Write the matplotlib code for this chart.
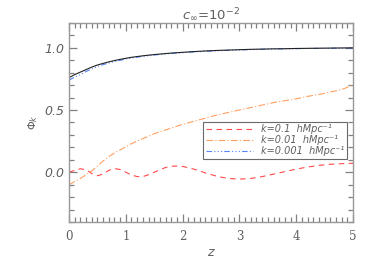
#!/usr/bin/env python3
import matplotlib
matplotlib.use('Agg')
import matplotlib.pyplot as plt
from matplotlib.ticker import MultipleLocator

# values
z = [0.0, 0.1, 0.2, 0.3, 0.4, 0.5, 0.6, 0.7, 0.8, 0.9, 1.0, 1.1, 1.2, 1.3,
     1.4, 1.5, 1.6, 1.7, 1.8, 1.9, 2.0, 2.2, 2.4, 2.6, 2.8, 3.0, 3.2, 3.4,
     3.6, 3.8, 4.0, 4.2, 4.4, 4.6, 4.8, 5.0]
phi_k01 = [0.0, 0.015, 0.028, 0.02, -0.01, -0.028, -0.015, 0.015, 0.03, 0.022,
           0.0, -0.022, -0.035, -0.035, -0.02, 0.0, 0.02, 0.038, 0.048, 0.05,
           0.047, 0.025, -0.005, -0.032, -0.05, -0.055, -0.05, -0.035, -0.015,
           0.005, 0.025, 0.042, 0.055, 0.064, 0.069, 0.072]
phi_k001 = [-0.10, -0.075, -0.05, -0.02, 0.01, 0.05, 0.09, 0.125, 0.155, 0.18,
            0.205, 0.23, 0.25, 0.27, 0.29, 0.31, 0.325, 0.34, 0.355, 0.37,
            0.385, 0.41, 0.435, 0.46, 0.48, 0.50, 0.52, 0.54, 0.56, 0.575,
            0.59, 0.61, 0.625, 0.645, 0.665, 0.70]
phi_k0001 = [0.74, 0.765, 0.785, 0.81, 0.83, 0.85, 0.865, 0.878, 0.89, 0.90,
             0.91, 0.918, 0.925, 0.932, 0.937, 0.942, 0.947, 0.951, 0.955, 0.958,
             0.961, 0.967, 0.972, 0.976, 0.98, 0.983, 0.986, 0.988, 0.99, 0.992,
             0.993, 0.995, 0.996, 0.997, 0.998, 0.998]
phi_ref = [0.76, 0.785, 0.805, 0.825, 0.845, 0.862, 0.875, 0.887, 0.898, 0.907,
           0.916, 0.924, 0.93, 0.936, 0.941, 0.946, 0.95, 0.954, 0.958, 0.961,
           0.964, 0.97, 0.975, 0.979, 0.982, 0.985, 0.988, 0.99, 0.992, 0.993,
           0.995, 0.996, 0.997, 0.998, 0.999, 1.0]
labels = ['k=0.1  hMpc\u207b\u00b9', 'k=0.01  hMpc\u207b\u00b9',
          'k=0.001  hMpc\u207b\u00b9']

gray = '#606060'

fig = plt.figure(figsize=(3.74, 2.67), dpi=100)
ax = fig.add_axes([0.1845, 0.1685, 0.7595, 0.7455])

ax.plot(z, phi_k01, color='#ff4a4a', lw=0.8, ls=(0, (5, 4)), label=labels[0])
ax.plot(z, phi_k001, color='#ffa060', lw=0.8, ls=(0, (6, 2, 1, 2)),
        label=labels[1])
ax.plot(z, phi_k0001, color='#5585ff', lw=0.8,
        ls=(0, (5, 2, 1, 2, 1, 2, 1, 2)), label=labels[2])
ax.plot(z, phi_ref, color='#222222', lw=0.8)

ax.set_xlim(0, 5)
ax.set_ylim(-0.4, 1.2)
ax.xaxis.set_major_locator(MultipleLocator(1))
ax.xaxis.set_minor_locator(MultipleLocator(0.1))
ax.yaxis.set_major_locator(MultipleLocator(0.5))
ax.yaxis.set_minor_locator(MultipleLocator(0.1))
ax.tick_params(which='both', direction='in', top=True, right=True,
               color='#808080', width=0.9)
ax.tick_params(which='major', length=6)
ax.tick_params(which='minor', length=3.5)
ax.tick_params(axis='x', pad=6)
ax.set_yticks([0.0, 0.5, 1.0])
ax.set_yticklabels(['0.0', '0.5', '1.0'], fontstyle='italic', fontsize=9,
                   color=gray)
ax.set_xticks([0, 1, 2, 3, 4, 5])
ax.set_xticklabels(['0', '1', '2', '3', '4', '5'], family='DejaVu Serif',
                   fontsize=8.5, color=gray)
for sp in ax.spines.values():
    sp.set_color('#999999')
    sp.set_linewidth(1.0)

ax.set_xlabel(r'$z$', color=gray, fontsize=9, labelpad=2)
ax.set_ylabel(r'$\Phi_k$', color=gray, fontsize=8, labelpad=3)
ax.set_title(r'$c_{\infty}$=10$^{-2}$', color=gray, fontsize=9.5, pad=2)

leg = ax.legend(loc='lower right', bbox_to_anchor=(0.98, 0.315),
                fontsize=7, frameon=True, fancybox=False, handlelength=4.9,
                borderpad=0.3, labelspacing=0.1, handletextpad=0.8,
                borderaxespad=0)
leg.get_frame().set_edgecolor('#444444')
leg.get_frame().set_linewidth(0.8)
for t in leg.get_texts():
    t.set_color(gray)
    t.set_fontstyle('italic')

fig.savefig('out.png', dpi=100)
